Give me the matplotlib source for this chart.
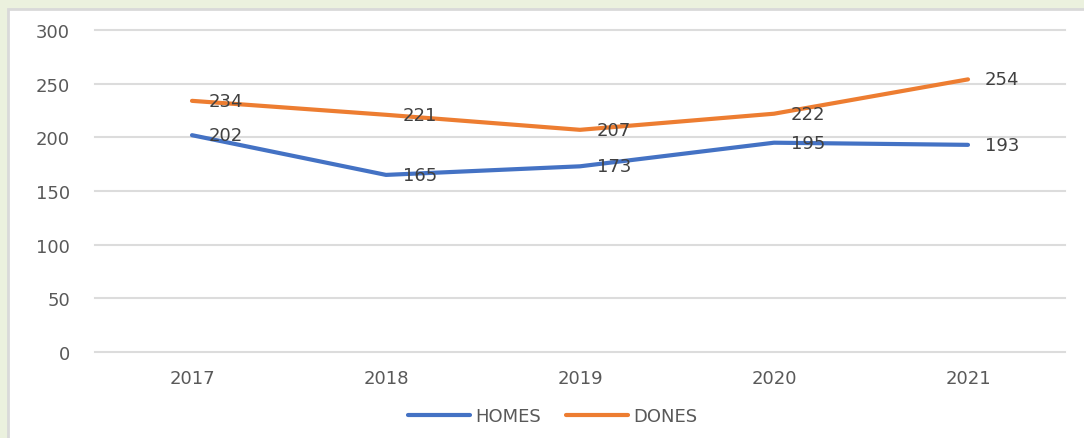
import matplotlib.pyplot as plt
from matplotlib.patches import Rectangle

plt.rcParams['font.family'] = ['DejaVu Sans']

years = ['2017', '2018', '2019', '2020', '2021']
homes = [202, 165, 173, 195, 193]
dones = [234, 221, 207, 222, 254]

W, H = 1084, 439
fig = plt.figure(figsize=(W / 100, H / 100), dpi=100, facecolor='#EBF1DE')

# white chart panel with grey border, kept behind the axes
fig.patches.append(Rectangle((8 / W, -0.05), 1.1, 1 - 10 / H + 0.05, transform=fig.transFigure,
                             facecolor='white', edgecolor='#D9D9D9', linewidth=2, zorder=-10))

ax = fig.add_axes([95 / W, 1 - 353 / H, (1065 - 95) / W, (353 - 31) / H])
ax.set_facecolor('none')

x = range(len(years))
ax.plot(x, homes, color='#4472C4', lw=3, solid_capstyle='round', label='HOMES')
ax.plot(x, dones, color='#ED7D31', lw=3, solid_capstyle='round', label='DONES')

for xi, v in zip(x, homes):
    ax.annotate(str(v), (xi, v), xytext=(12, 0), textcoords='offset points',
                ha='left', va='center', fontsize=13, color='#404040')
for xi, v in zip(x, dones):
    ax.annotate(str(v), (xi, v), xytext=(12, 0), textcoords='offset points',
                ha='left', va='center', fontsize=13, color='#404040')

ax.set_xlim(-0.5, len(years) - 0.5)
ax.set_ylim(0, 300)
ax.set_yticks(range(0, 301, 50))
ax.set_xticks(list(x))
ax.set_xticklabels(years)
ax.grid(axis='y', color='#DCDCDC', lw=1.5)
for gl in ax.get_ygridlines():
    gl.set_clip_on(False)
ax.set_axisbelow(True)
for s in ax.spines.values():
    s.set_visible(False)
ax.tick_params(length=0, labelsize=13, colors='#595959')
ax.tick_params(axis='y', pad=18)
ax.tick_params(axis='x', pad=12.5)

leg = fig.legend(loc='center', bbox_to_anchor=(0.51, 1 - 417 / H), ncol=2, frameon=False,
                 fontsize=13, handlelength=3.4, handletextpad=0.3, columnspacing=1.4)
for t in leg.get_texts():
    t.set_color('#595959')

fig.savefig('out.png', dpi=100, facecolor=fig.get_facecolor())
